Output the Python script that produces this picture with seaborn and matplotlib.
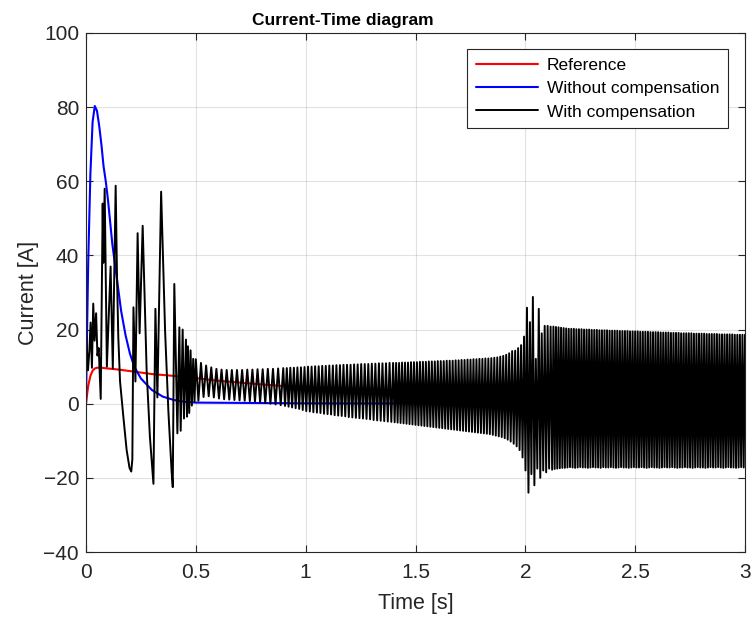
import numpy as np
import pandas as pd
import matplotlib
matplotlib.use("Agg")
import matplotlib.pyplot as plt
import seaborn as sns

# ---------------- data ----------------
series_names = ["Reference", "Without compensation", "With compensation"]
series_colors = ["#ff0000", "#0000ff", "#000000"]

x_ticks = [0, 0.5, 1, 1.5, 2, 2.5, 3]
x_tick_labels = ["0", "0.5", "1", "1.5", "2", "2.5", "3"]
y_ticks = [-40, -20, 0, 20, 40, 60, 80, 100]

# Reference current
ref_t = [0.0, 0.005, 0.01, 0.02, 0.03, 0.04, 0.05, 0.07, 0.1, 0.15, 0.2, 0.25,
         0.3, 0.4, 0.5, 0.6, 0.8, 1.0, 1.2, 1.5, 1.8, 2.0, 2.5, 3.0]
ref_i = [0.0, 2.5, 4.8, 7.5, 8.9, 9.5, 9.7, 9.7, 9.5, 9.2, 8.8, 8.4,
         8.0, 7.5, 6.9, 6.2, 5.2, 4.3, 3.6, 2.7, 2.1, 1.7, 1.0, 0.6]

# Without compensation
nocomp_t = [0.0, 0.005, 0.01, 0.02, 0.03, 0.04, 0.05, 0.06, 0.07, 0.08, 0.09,
            0.1, 0.12, 0.14, 0.16, 0.18, 0.2, 0.22, 0.25, 0.3, 0.35, 0.4,
            0.45, 0.5, 1.0, 2.0, 3.0]
nocomp_i = [0.0, 20.0, 38.0, 62.0, 76.0, 80.3, 79.0, 75.0, 70.0, 64.0, 60.0,
            55.0, 43.0, 34.0, 25.0, 18.5, 13.5, 10.0, 6.8, 3.7, 1.9, 1.0,
            0.5, 0.3, 0.1, 0.0, 0.0]

# With compensation: start-up transient (0 - 0.5 s)
comp_t_early = [0.000, 0.009, 0.015, 0.021, 0.027, 0.033, 0.039, 0.046, 0.052,
                0.058, 0.067, 0.076, 0.079, 0.085, 0.095, 0.112, 0.122, 0.135,
                0.141, 0.147, 0.155, 0.170, 0.185, 0.198, 0.206, 0.211, 0.216,
                0.225, 0.235, 0.244, 0.258, 0.276, 0.291, 0.307, 0.316, 0.325,
                0.342, 0.360, 0.375, 0.390, 0.395, 0.402, 0.416, 0.425, 0.431,
                0.440, 0.446, 0.455, 0.460, 0.464, 0.470, 0.476, 0.482, 0.488,
                0.494]
comp_i_early = [19.7, 9.0, 14.0, 21.9, 9.7, 27.0, 17.0, 24.4, 13.0,
                15.0, 1.3, 54.0, 38.0, 58.0, 10.0, 37.0, 9.5, 58.8,
                35.0, 18.0, 6.0, -3.5, -12.5, -17.3, -18.3, -15.0, 26.0,
                6.0, 46.0, 19.0, 48.0, 9.0, -9.0, -21.6, 25.6, 1.7,
                57.2, 19.7, -2.0, -18.6, -22.5, 32.3, -8.0, 20.6, -7.3,
                20.0, -4.0, 17.3, -3.5, 15.5, -2.5, 14.4, -0.5, 12.1,
                0.5]

# With compensation: oscillation, peak / trough values per cycle
osc1_span = (0.500, 0.898)   # starts with a peak
osc1_hi = [12.0, 11.0, 10.3, 9.8, 9.4, 9.2, 9.1, 9.1, 9.1, 9.1, 9.2, 9.2,
           9.3, 9.3, 9.4, 9.4, 9.5, 9.6]
osc1_lo = [0.8, 1.8, 2.0, 1.7, 1.4, 1.2, 1.1, 1.0, 0.9, 0.8, 0.7, 0.6,
           0.4, 0.2, 0.0, -0.2, -0.4]

osc2_span = (0.906, 1.398)   # starts with a trough
osc2_lo = [-0.6, -0.8, -1.0, -1.2, -1.4, -1.7, -2.0, -2.1, -2.3, -2.4, -2.5,
           -2.7, -2.8, -2.9, -3.1, -3.2, -3.3, -3.4, -3.6, -3.7, -3.8, -3.9,
           -4.0, -4.1, -4.2, -4.4, -4.5, -4.6, -4.7, -4.8, -4.9]
osc2_hi = [9.6, 9.7, 9.7, 9.8, 9.8, 9.9, 10.0, 10.0, 10.1, 10.1, 10.2, 10.2,
           10.3, 10.3, 10.4, 10.4, 10.5, 10.5, 10.5, 10.6, 10.6, 10.7, 10.7,
           10.7, 10.8, 10.8, 10.9, 10.9, 10.9, 11.0, 11.0]

osc3_span = (1.405, 1.940)   # starts with a trough
osc3_lo = [-5.0, -5.1, -5.2, -5.3, -5.4, -5.5, -5.6, -5.7, -5.8, -5.9,
           -6.0, -6.1, -6.2, -6.3, -6.4, -6.5, -6.6, -6.7, -6.8, -6.9,
           -7.0, -7.1, -7.2, -7.3, -7.4, -7.5, -7.6, -7.7, -7.8, -7.9,
           -8.0, -8.1, -8.2, -8.4, -8.6, -8.8, -9.0, -9.3, -9.7, -10.2]
osc3_hi = [11.0, 11.0, 11.1, 11.1, 11.1, 11.2, 11.2, 11.2, 11.3, 11.3,
           11.3, 11.4, 11.4, 11.4, 11.5, 11.5, 11.5, 11.6, 11.6, 11.6,
           11.7, 11.7, 11.8, 11.8, 11.9, 11.9, 12.0, 12.0, 12.1, 12.1,
           12.2, 12.2, 12.3, 12.4, 12.5, 12.7, 12.9, 13.2, 13.6, 14.2]

osc4_span = (1.947, 2.115)   # burst at 2 s, starts with a trough
osc4_lo = [-10.8, -11.5, -12.5, -14.5, -18.0, -24.0, -19.0, -22.0, -17.5,
           -20.0, -18.0, -18.5, -17.5]
osc4_hi = [14.3, 15.0, 15.8, 18.1, 25.9, 22.0, 28.8, 12.1, 25.6, 19.0,
           21.0, 21.0, 20.8]

osc5_span = (2.122, 3.000)   # starts with a trough
osc5_lo = [-17.8, -17.6, -17.5, -17.4, -17.3, -17.3,
           -17.2, -17.1, -17.2, -17.3, -17.2, -17.1, -17.2, -17.2, -17.3, -17.2,
           -17.1, -17.2, -17.2, -17.3, -17.1, -17.2, -17.2, -17.1, -17.2, -17.3,
           -17.2, -17.1, -17.2, -17.2, -17.3, -17.2, -17.1, -17.2, -17.2, -17.1,
           -17.2, -17.3, -17.2, -17.1, -17.2, -17.2, -17.3, -17.2, -17.1, -17.2,
           -17.2, -17.1, -17.2, -17.3, -17.2, -17.2, -17.1, -17.2, -17.2, -17.3,
           -17.2, -17.1, -17.2, -17.2, -17.3, -17.2, -17.1, -17.2, -17.2, -17.1,
           -17.2, -17.3, -17.2, -17.1, -17.2, -17.2, -17.3, -17.2, -17.1, -17.2]
osc5_hi = [20.8, 20.7, 20.6, 20.5, 20.4, 20.3,
           20.2, 20.2, 20.2, 20.1, 20.1, 20.1, 20.0, 20.0, 20.0, 19.9, 19.9,
           19.9, 19.8, 19.8, 19.8, 19.8, 19.7, 19.7,
           19.7, 19.7, 19.6, 19.6, 19.6, 19.6, 19.5, 19.5, 19.5, 19.5, 19.4,
           19.4, 19.4, 19.4, 19.3, 19.3, 19.3, 19.3, 19.2, 19.2, 19.2, 19.2,
           19.1, 19.1, 19.1, 19.1,
           19.0, 19.0, 19.0, 19.0, 19.0, 18.9, 18.9, 18.9, 18.9, 18.9, 18.8,
           18.8, 18.8, 18.8, 18.8, 18.7, 18.7, 18.7, 18.7, 18.7, 18.7, 18.6,
           18.6, 18.6, 18.6, 18.6]


# ---------------- assemble ----------------
def alternate(first, second):
    out = []
    for k in range(len(first)):
        out.append(first[k])
        if k < len(second):
            out.append(second[k])
    return out


segments = [
    (osc1_span, alternate(osc1_hi, osc1_lo)),
    (osc2_span, alternate(osc2_lo, osc2_hi)),
    (osc3_span, alternate(osc3_lo, osc3_hi)),
    (osc4_span, alternate(osc4_lo, osc4_hi)),
    (osc5_span, alternate(osc5_lo, osc5_hi)),
]
comp_t = list(comp_t_early)
comp_i = list(comp_i_early)
for (t0, t1), vals in segments:
    comp_t += list(np.linspace(t0, t1, len(vals)))
    comp_i += vals

df = pd.concat([
    pd.DataFrame({"t": ref_t, "i": ref_i, "s": series_names[0]}),
    pd.DataFrame({"t": nocomp_t, "i": nocomp_i, "s": series_names[1]}),
    pd.DataFrame({"t": comp_t, "i": comp_i, "s": series_names[2]}),
], ignore_index=True)

# ---------------- plot ----------------
sns.set_theme(style="whitegrid")
plt.rcParams["font.family"] = ["Liberation Sans", "DejaVu Sans"]
plt.rcParams["axes.unicode_minus"] = True

fig = plt.figure(figsize=(7.53, 6.17), dpi=100)
ax = fig.add_axes([86 / 753, 1 - 552 / 617, 659 / 753, 519 / 617])

widths = [1.5, 1.5, 1.4]
for name, col, lw in zip(series_names, series_colors, widths):
    sns.lineplot(data=df[df["s"] == name], x="t", y="i", color=col,
                 linewidth=lw, estimator=None, sort=False, ax=ax, label=name)

ax.set_xlim(0, 3)
ax.set_ylim(-40, 100)
ax.set_xticks(x_ticks)
ax.set_xticklabels(x_tick_labels)
ax.set_yticks(y_ticks)

ax.set_facecolor("white")
ax.grid(True, color="#262626", alpha=0.13, linewidth=0.8)
for sp in ax.spines.values():
    sp.set_visible(True)
    sp.set_color("#262626")
    sp.set_linewidth(0.8)
ax.tick_params(axis="both", which="both", direction="in", length=5,
               width=0.8, color="#262626", labelcolor="#262626",
               labelsize=15, top=True, right=True, bottom=True, left=True,
               pad=8)
ax.tick_params(axis="y", pad=5)

ax.set_xlabel("Time [s]", fontsize=15.5, color="#262626", labelpad=8)
ax.set_ylabel("Current [A]", fontsize=15.5, color="#262626", labelpad=3)
ax.set_title("Current-Time diagram", fontsize=12.5, fontweight="bold",
             color="#000000", pad=6, x=0.39)

leg = ax.legend(loc="upper right", bbox_to_anchor=(0.974, 0.969),
                borderaxespad=0, fontsize=12.5, frameon=True, fancybox=False,
                framealpha=1, edgecolor="#262626", handlelength=3.6,
                handletextpad=0.5, labelspacing=0.47, borderpad=0.5)
leg.get_frame().set_linewidth(0.8)
for txt in leg.get_texts():
    txt.set_color("#000000")

fig.savefig("out.png", dpi=100)
